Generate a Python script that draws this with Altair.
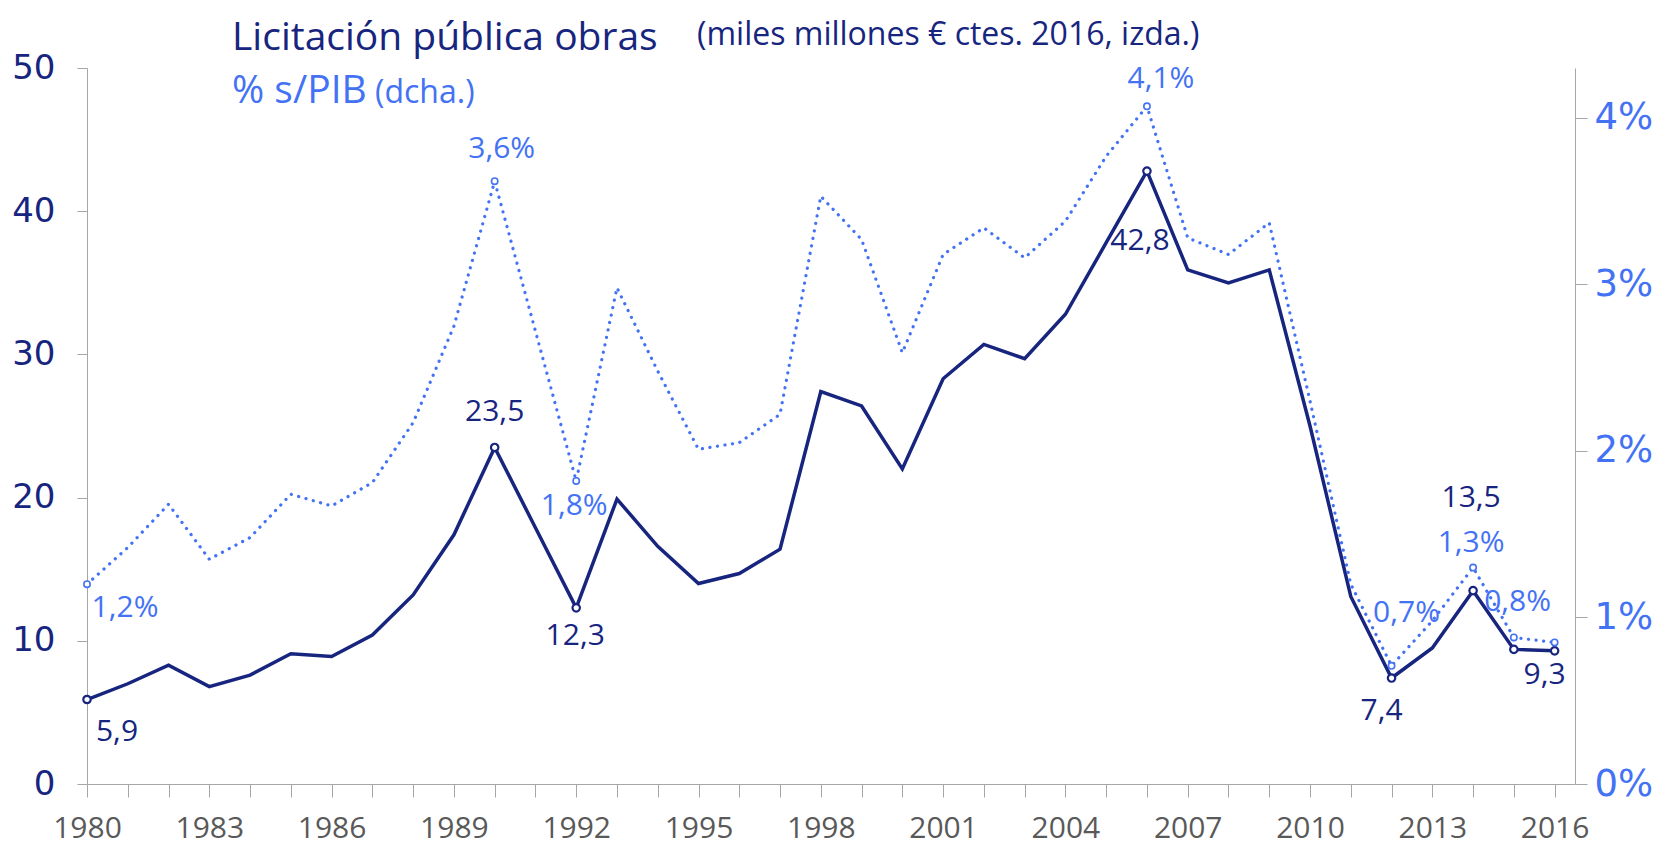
import altair as alt
import pandas as pd

years = list(range(1980, 2017))
licitacion = [5.9, 7.0, 8.3, 6.8, 7.6, 9.1, 8.9, 10.4, 13.2, 17.4,
              23.5, 17.9, 12.3, 19.9, 16.6, 14.0, 14.7, 16.4, 27.4, 26.4,
              22.0, 28.3, 30.7, 29.7, 32.8, 37.8, 42.8, 35.9, 35.0, 35.9,
              25.0, 13.1, 7.4, 9.5, 13.5, 9.4, 9.3]
pct_pib = [1.20, 1.42, 1.68, 1.35, 1.48, 1.74, 1.67, 1.81, 2.17, 2.75,
           3.62, 2.72, 1.82, 2.98, 2.48, 2.01, 2.05, 2.22, 3.53, 3.27,
           2.59, 3.18, 3.34, 3.16, 3.38, 3.77, 4.07, 3.28, 3.18, 3.37,
           2.30, 1.20, 0.71, 0.98, 1.30, 0.88, 0.85]
marker_years = [1980, 1990, 1992, 2006, 2012, 2014, 2015, 2016]
left_ticks = [0, 10, 20, 30, 40, 50]
right_ticks = [0, 1, 2, 3, 4]

title_main = "Licitación pública obras"
title_sub = "(miles millones € ctes. 2016, izda.)"
title2_main = "% s/PIB"
title2_sub = "(dcha.)"

NAVY = "#17257F"
BLUE = "#4472F4"
GREY = "#A6A6A6"
LBL_FONT = "Open Sans"

df = pd.DataFrame({"year": years, "lic": licitacion, "pib": pct_pib})
df["lic_txt"] = [f"{v:.1f}".replace(".", ",") for v in licitacion]
df["pib_txt"] = [f"{v:.1f}".replace(".", ",") + "%" for v in pct_pib]
df["marker"] = df["year"].isin(marker_years)

base = alt.Chart(df)

x_axis = alt.Axis(
    values=years,
    labelExpr="datum.value % 3 == 0 ? '' + datum.value : ''",
    grid=False, tickSize=13, tickColor=GREY, domainColor=GREY,
    labelFont=LBL_FONT, labelFontSize=30, labelColor="#595959",
    labelPadding=16, labelBaseline="top", labelFlush=False, labelOverlap=False,
    title=None,
)
x_enc = alt.X("year:Q", scale=alt.Scale(domain=[1980, 2016.5], nice=False, zero=False), axis=x_axis)

yl_scale = alt.Scale(domain=[0, 50], nice=False)
yr_scale = alt.Scale(domain=[0, 4.3], nice=False)

left_axis = alt.Axis(values=left_ticks, orient="left", grid=False, tickSize=10, tickColor=GREY,
                     domainColor=GREY, labelFont="DejaVu Sans", labelFontSize=34,
                     labelColor=NAVY, labelPadding=22, title=None)
right_axis = alt.Axis(values=right_ticks, orient="right", grid=False, tickSize=12, tickColor=GREY,
                      domainColor=GREY, labelFont="DejaVu Sans", labelFontSize=37,
                      labelColor=BLUE, labelPadding=7, labelExpr="datum.value + '%'", title=None)

yl_enc = alt.Y("lic:Q", scale=yl_scale, axis=left_axis)
yr_enc = alt.Y("pib:Q", scale=yr_scale, axis=right_axis)

# ---- left (navy) group ----
navy_line = base.mark_line(color=NAVY, strokeWidth=3.5).encode(x=x_enc, y=yl_enc)
navy_pts = base.transform_filter("datum.marker").mark_point(
    shape="circle", filled=True, fill="white", stroke=NAVY, strokeWidth=2.2, size=55, opacity=1
).encode(x=x_enc, y=yl_enc)

def navy_label(yr, dx, dy):
    return base.transform_filter(f"datum.year == {yr}").mark_text(
        font=LBL_FONT, fontSize=30, color=NAVY, dx=dx, dy=dy, align="center", baseline="middle"
    ).encode(x=x_enc, y=yl_enc, text="lic_txt:N")

navy_labels = [
    navy_label(1980, 30, 32), navy_label(1990, 0, -35), navy_label(1992, -1, 28),
    navy_label(2006, -7, 70), navy_label(2012, -10, 33), navy_label(2014, -2, -93),
    navy_label(2016, -10, 24),
]

# titles (pixel placement)
def title_text(txt, xpx, ypx, size, color):
    return alt.Chart(pd.DataFrame({"t": [txt]})).mark_text(
        font=LBL_FONT, fontSize=size, color=color, align="left", baseline="alphabetic"
    ).encode(x=alt.value(xpx), y=alt.value(ypx), text="t:N")

titles = [
    title_text(title_main, 145, -18, 39, NAVY),
    title_text(title_sub, 610, -23, 32, NAVY),
    title_text(title2_main, 145, 35, 39, BLUE),
    title_text(title2_sub, 288, 35, 32, BLUE),
]

left_group = alt.layer(navy_line, navy_pts, *navy_labels)

# ---- right (blue) group ----
blue_line = base.mark_line(color=BLUE, strokeWidth=3.2, strokeDash=[0.1, 7.5], strokeCap="round").encode(
    x=x_enc, y=yr_enc)
blue_pts = base.transform_filter("datum.marker").mark_point(
    shape="circle", filled=True, fill="white", stroke=BLUE, strokeWidth=1.6, size=40, opacity=1
).encode(x=x_enc, y=yr_enc)

def blue_label(yr, dx, dy):
    return base.transform_filter(f"datum.year == {yr}").mark_text(
        font=LBL_FONT, fontSize=30, color=BLUE, dx=dx, dy=dy, align="center", baseline="middle"
    ).encode(x=x_enc, y=yr_enc, text="pib_txt:N")

blue_labels = [
    blue_label(1980, 38, 24), blue_label(1990, 7, -32), blue_label(1992, -2, 25),
    blue_label(2006, 14, -27), blue_label(2012, 15, -53), blue_label(2014, -2, -25),
    blue_label(2016, -37, -40),
]

right_group = alt.layer(blue_line, blue_pts, *blue_labels)

chart = alt.layer(left_group, right_group, *titles).resolve_scale(y="independent").properties(
    width=1488, height=716,
    padding={"left": 79, "top": 60, "right": 80, "bottom": 62},
    autosize=alt.AutoSizeParams(type="none"),
    background="white",
).configure_view(stroke=None)

chart.save("out.html", embed_options={"renderer": "svg", "actions": False})
